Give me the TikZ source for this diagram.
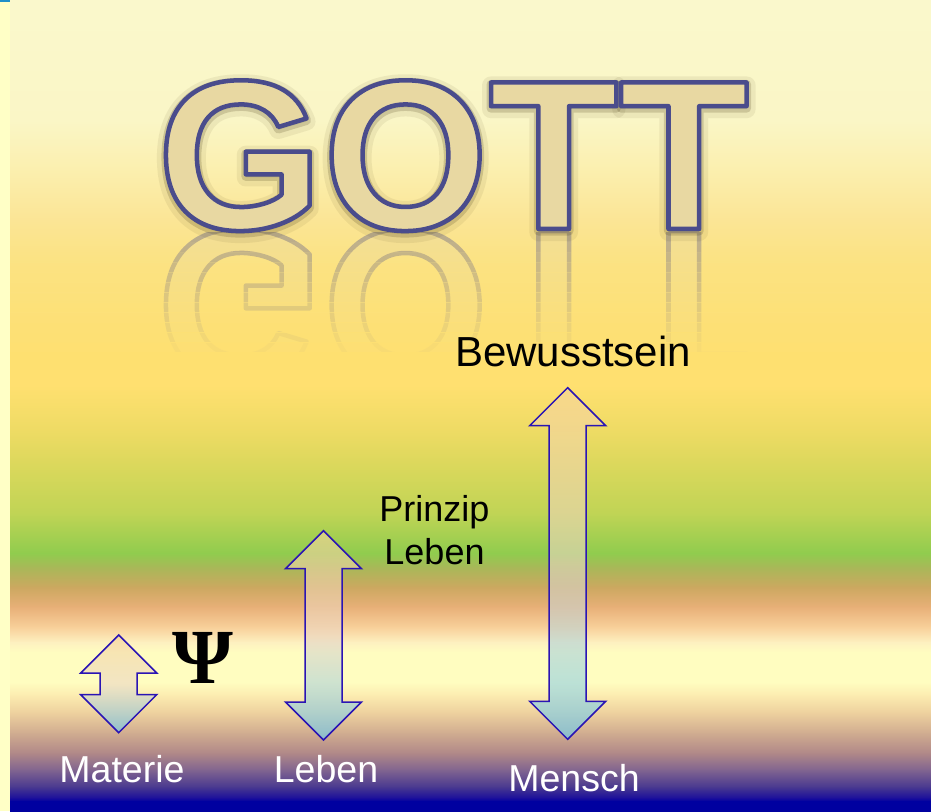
\documentclass[tikz,border=0pt]{standalone}
\usepackage{fontspec}
\setmainfont{Liberation Sans}
\newfontfamily\psifont{Liberation Serif}
\usepackage{tikz}
\usetikzlibrary{calc}
\definecolor{gott fill}{HTML}{E8D8A2}
\definecolor{arrow line}{HTML}{2A14B4}
\definecolor{arrow top}{HTML}{F6D49C}
\definecolor{arrow middle}{HTML}{EAD6C6}
\definecolor{arrow bottom}{HTML}{64CCF4}
\definecolor{left strip}{HTML}{FFFFC6}
\definecolor{corner mark}{HTML}{2090C8}
\definecolor{fade top}{HTML}{FBE48F}
\definecolor{fade bottom}{HTML}{FEE070}
\tikzset{gott/.style={font=\fontsize{213}{213}\selectfont\bfseries,inner sep=0pt,anchor=base},
  black label/.style={font=\fontsize{36}{43}\selectfont,text=black,inner sep=0pt,align=center},
  white label/.style={font=\fontsize{37.5}{44}\selectfont,text=white,inner sep=0pt,anchor=base},
  psi/.style={font=\fontsize{78}{78}\selectfont\psifont\bfseries,text=black,inner sep=0pt},
  arrow body/.style={draw=arrow line,line width=1.5pt,top color=arrow top,bottom color=arrow bottom,
    middle color=arrow middle,fill opacity=0.6,line join=miter},}
% outlined text: #1 = stroke width, #2 = stroke rgb, #3 = text
\newcommand{\konturtext}[3]{\special{pdf:literal direct 2 Tr 1 j #1 w #2 RG}#3\special{pdf:literal direct 0 Tr 0 j}}
% #1 = middle x, #2 = upper tip, #3 = lower tip
\newcommand{\doppelpfeil}[3]{%
  \draw[arrow body] (#1,#2) -- (#1+38,#2+38) -- (#1+18.5,#2+38) -- (#1+18.5,#3-38) -- (#1+38,#3-38)
    -- (#1,#3) -- (#1-38,#3-38) -- (#1-18.5,#3-38) -- (#1-18.5,#2+38) -- (#1-38,#2+38) -- cycle;}
\begin{document}
\begin{tikzpicture}[x=1pt,y=-1pt]
	\useasboundingbox (0,0) rectangle (931,811);
	% background
	\fill[left strip] (0,0) rectangle (10,811);
	\fill[corner mark] (0,0) rectangle (10,1.5);
	\foreach \ya/\ca/\yb/\cb in {0/FAF8CC/120/FAF6C6, 120/FAF6C6/170/FBEFAE, 170/FBEFAE/220/FBE595,
	    220/FBE595/270/FCE27E, 270/FCE27E/320/FDE070, 320/FDE070/385/FFE070, 385/FFE070/430/EEDB64,
	    430/EEDB64/463/DCD85C, 463/DCD85C/513/C0D455, 513/C0D455/553/90CC4E, 553/90CC4E/567/A8B858,
	    567/A8B858/587/CCA860, 587/CCA860/607/E8B078, 607/E8B078/627/F8D09A, 627/F8D09A/642/FDF0C0,
	    642/FDF0C0/652/FFFDC0, 652/FFFDC0/682/FFFDC0, 682/FFFDC0/695/FCECB0, 695/FCECB0/713/EDD09E,
	    713/EDD09E/733/D0AC90, 733/D0AC90/753/B08888, 753/B08888/770/806490, 770/806490/787/483890,
	    787/483890/798/1A0E9C, 798/1A0E9C/801/0000A0, 801/0000A0/811/0000A0}{
	  \definecolor{band top}{HTML}{\ca}
	  \definecolor{band bottom}{HTML}{\cb}
	  \shade[top color=band top,bottom color=band bottom] (10,\ya) rectangle (931,\yb+0.5);
	}

	% reflection of the title, fading out downwards
	\coordinate (spiegel) at (453,231);
	\begin{scope}
	  \clip (10,232) rectangle (931,360);
	  \begin{scope}[transparency group,opacity=0.36]
	    \node[gott,text=gott fill] (spiegelbild) at (spiegel) {\scalebox{1}[-1]{\konturtext{4.5}{0.29 0.30 0.55}{GOTT}}};
	  \end{scope}
	\end{scope}
	\foreach \k in {0,...,12}{
	  \pgfmathsetmacro\deckung{\k/12}
	  \pgfmathtruncatemacro\anteil{100*\k/12}
	  \fill[fade bottom!\anteil!fade top,fill opacity=\deckung] (10,232+10*\k) rectangle (931,242.5+10*\k);
	}

	% title
	\coordinate (gottmitte) at (453,229);
	\node[gott,text=black,opacity=0.08] (schatten) at ($(gottmitte)+(0,3)$) {\konturtext{18}{0.3 0.25 0.1}{GOTT}};
	\node[gott,text=black,opacity=0.2] (schein) at ($(gottmitte)+(0,2)$) {\konturtext{9}{0.3 0.25 0.1}{GOTT}};
	\node[gott,text=gott fill] (gott) at (gottmitte) {\konturtext{4.5}{0.29 0.30 0.55}{GOTT}};

	% arrows
	\doppelpfeil{118.7}{635}{732.7}
	\doppelpfeil{323.5}{530.7}{740}
	\doppelpfeil{567.7}{387.7}{739.3}

	% labels
	\node[black label,font=\fontsize{42}{50}\selectfont,anchor=base] (bewusstsein) at (573,366.7) {Bewusstsein};
	\node[black label] (prinzip) at (434.5,530) {Prinzip\\Leben};
	\node[psi] (psizeichen) at (203.3,657.8) {Ψ};
	\node[white label] (materie) at (122,782.7) {Materie};
	\node[white label] (leben) at (326,782.7) {Leben};
	\node[white label] (mensch) at (574,791.7) {Mensch};
\end{tikzpicture}
\end{document}
